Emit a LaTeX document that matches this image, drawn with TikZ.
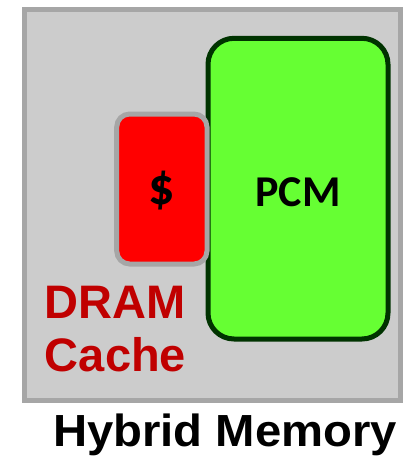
\documentclass[tikz,border=0pt]{standalone}
\usepackage{fontspec}
\setmainfont{Liberation Sans}
\newfontfamily\calfont{Carlito}
\definecolor{outerfill}{HTML}{CCCCCC}
\definecolor{outerline}{HTML}{A6A6A6}
\definecolor{pcmfill}{HTML}{66FF33}
\definecolor{pcmline}{HTML}{003300}
\definecolor{cachered}{HTML}{FF0000}
\definecolor{darkred}{HTML}{C00000}
\begin{document}
\begin{tikzpicture}[x=1pt,y=-1pt,
  outerbox/.style={draw=outerline,fill=outerfill,line width=5pt},
  pcmbox/.style={draw=pcmline,fill=pcmfill,line width=5pt,rounded corners=26pt},
  cachebox/.style={draw=outerline,fill=cachered,line width=5pt,rounded corners=13pt},
  lbl/.style={inner sep=0pt,outer sep=0pt}]
\useasboundingbox (0,0) rectangle (403,456);
\fill[white] (0,0) rectangle (403,456);
\draw[outerbox] (24,9.7) rectangle (400,400.5);
\draw[pcmbox] (208,38.3) rectangle (388,339);
\draw[cachebox] (116.7,114) rectangle (207,264);
\node[lbl] (dollar) at (161.7,191) {\calfont\bfseries\fontsize{52}{52}\selectfont \$};
\node[lbl] (pcm) at (298,192.5) {\calfont\bfseries\fontsize{44}{44}\selectfont PCM};
\node[lbl,anchor=base west,text=darkred,align=left] (dram) at (45,318.3) {\bfseries\fontsize{47}{53.4}\selectfont DRAM};
\node[lbl,anchor=base west,text=darkred,align=left] (cache) at (45,371.7) {\bfseries\fontsize{47}{53.4}\selectfont Cache};
\node[lbl,anchor=base west,xscale=1.05] (hybrid) at (53,446.7) {\bfseries\fontsize{45}{45}\selectfont Hybrid Memory};
\end{tikzpicture}
\end{document}
